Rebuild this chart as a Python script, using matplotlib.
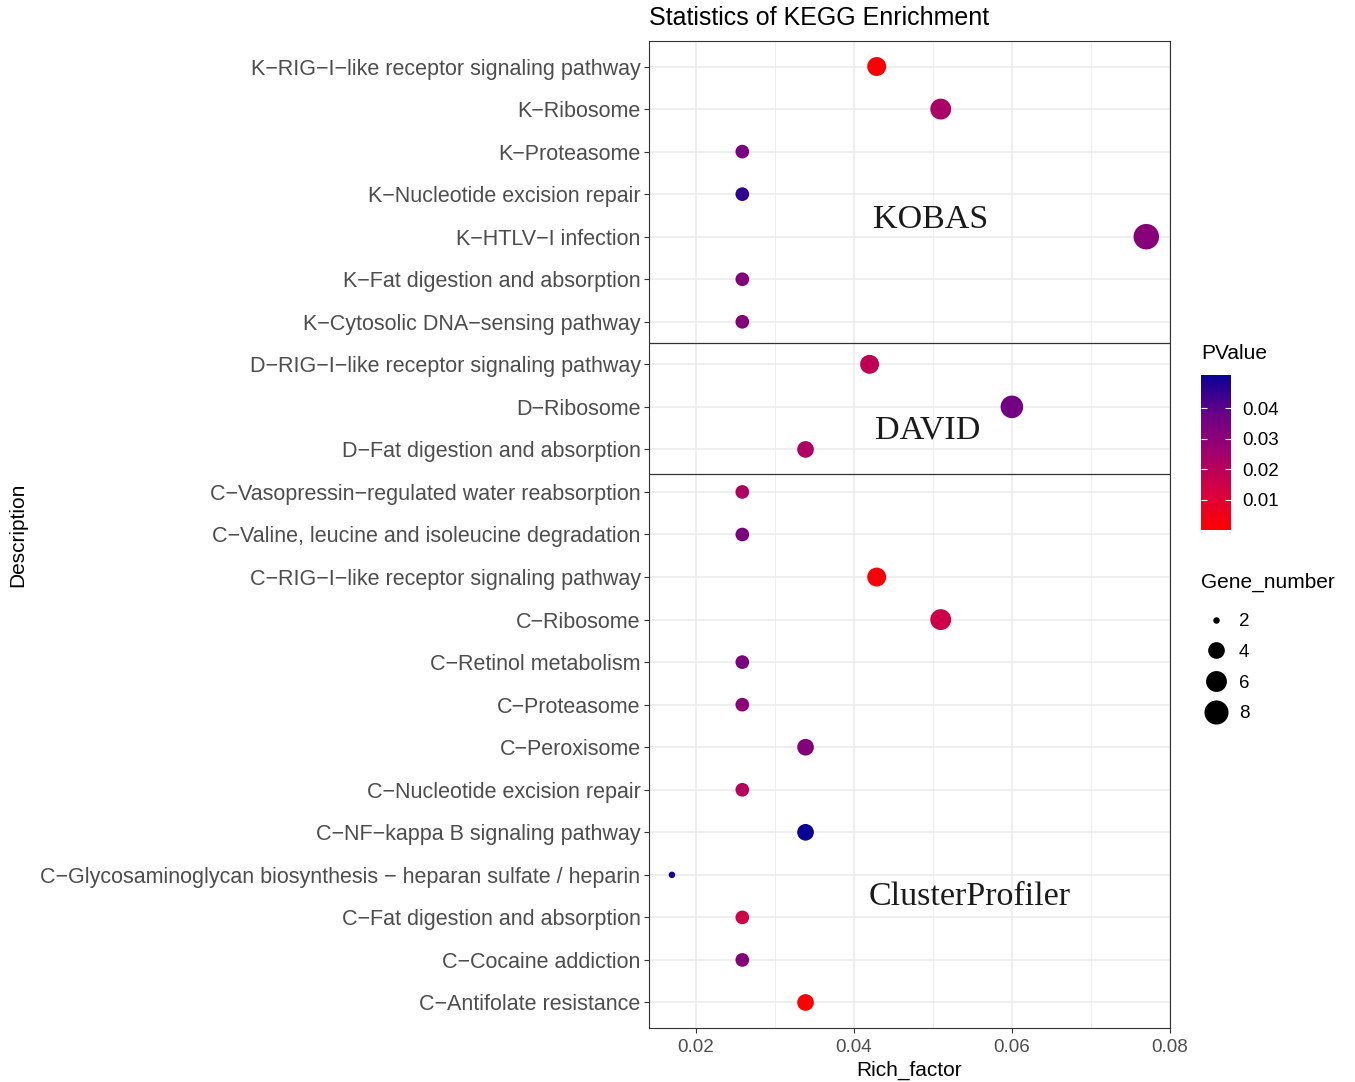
import numpy as np
import matplotlib
matplotlib.use('Agg')
import matplotlib.pyplot as plt
from matplotlib.colors import LinearSegmentedColormap, Normalize
from matplotlib.lines import Line2D

plt.rcParams['font.family'] = ['Liberation Sans', 'DejaVu Sans']

# data, top row first
descriptions = [
    'K\u2212RIG\u2212I\u2212like receptor signaling pathway',
    'K\u2212Ribosome',
    'K\u2212Proteasome',
    'K\u2212Nucleotide excision repair',
    'K\u2212HTLV\u2212I infection',
    'K\u2212Fat digestion and absorption',
    'K\u2212Cytosolic DNA\u2212sensing pathway',
    'D\u2212RIG\u2212I\u2212like receptor signaling pathway',
    'D\u2212Ribosome',
    'D\u2212Fat digestion and absorption',
    'C\u2212Vasopressin\u2212regulated water reabsorption',
    'C\u2212Valine, leucine and isoleucine degradation',
    'C\u2212RIG\u2212I\u2212like receptor signaling pathway',
    'C\u2212Ribosome',
    'C\u2212Retinol metabolism',
    'C\u2212Proteasome',
    'C\u2212Peroxisome',
    'C\u2212Nucleotide excision repair',
    'C\u2212NF\u2212kappa B signaling pathway',
    'C\u2212Glycosaminoglycan biosynthesis \u2212 heparan sulfate / heparin',
    'C\u2212Fat digestion and absorption',
    'C\u2212Cocaine addiction',
    'C\u2212Antifolate resistance',
]
rich_factor = [0.0429, 0.0510, 0.0259, 0.0259, 0.0770, 0.0259, 0.0259,
               0.0420, 0.0600, 0.0339,
               0.0259, 0.0259, 0.0429, 0.0510, 0.0259, 0.0259, 0.0339,
               0.0259, 0.0339, 0.0170, 0.0259, 0.0259, 0.0339]
gene_number = [5, 6, 3, 3, 9, 3, 3,
               5, 7, 4,
               3, 3, 5, 6, 3, 3, 4, 3, 4, 2, 3, 3, 4]
pvalue = [0.001, 0.023, 0.034, 0.046, 0.031, 0.032, 0.032,
          0.018, 0.036, 0.022,
          0.022, 0.034, 0.002, 0.015, 0.034, 0.030, 0.032, 0.020,
          0.051, 0.049, 0.015, 0.032, 0.0001]
size_breaks = [2, 4, 6, 8]
group_labels = ['KOBAS', 'DAVID', 'ClusterProfiler']
group_label_pos = [(0.0497, 3.6), (0.0494, 8.56), (0.0547, 19.52)]
group_lines = [6.5, 9.57]

W, H = 1355, 1082
fig = plt.figure(figsize=(W / 100, H / 100), dpi=100)
ax = fig.add_axes([649 / W, 1 - 1028 / H, 521 / W, 987 / H])

cmap = LinearSegmentedColormap.from_list(
    'pv', ['#ff0000', '#d70041', '#a0006e', '#690087', '#0a0096'])
norm = Normalize(vmin=min(pvalue), vmax=max(pvalue))

nmin, nmax = min(gene_number), max(gene_number)


def diam_px(n):
    return 6.5 + 19 * np.sqrt((n - nmin) / (nmax - nmin))


y = np.arange(len(descriptions))
sizes = [(diam_px(n) * 0.72) ** 2 for n in gene_number]
ax.scatter(rich_factor, y, s=sizes, c=pvalue, cmap=cmap, norm=norm,
           linewidths=0, zorder=3)

ax.set_xlim(0.0141, 0.0800)
ax.set_ylim(len(descriptions) - 0.4, -0.6)
ax.set_xticks([0.02, 0.04, 0.06, 0.08])
ax.set_xticklabels(['0.02', '0.04', '0.06', '0.08'])
ax.set_xticks([0.03, 0.05, 0.07], minor=True)
ax.set_yticks(y)
ax.set_yticklabels(descriptions)

ax.grid(True, which='major', color='#ebebeb', linewidth=1.1, zorder=0)
ax.grid(True, which='minor', axis='x', color='#ebebeb', linewidth=0.55, zorder=0)
ax.set_axisbelow(True)
for sp in ax.spines.values():
    sp.set_color('#333333')
    sp.set_linewidth(0.8)
ax.tick_params(which='major', length=3.6, width=0.8, color='#333333',
               labelcolor='#4d4d4d', pad=2.5)
ax.tick_params(axis='y', labelsize=15.5)
ax.tick_params(axis='x', labelsize=13.5, pad=4)
ax.tick_params(which='minor', length=0)

for yl in group_lines:
    ax.axhline(yl, color='#333333', linewidth=0.9, zorder=2)

for lab, (gx, gy) in zip(group_labels, group_label_pos):
    ax.text(gx, gy, lab, family='Liberation Serif', fontsize=24.5,
            ha='center', va='center', color='#1a1a1a', zorder=4)

ax.set_xlabel('Rich_factor', fontsize=15, labelpad=4)
fig.text(18 / W, 1 - 535 / H, 'Description', rotation=90, fontsize=15,
         ha='center', va='center')
fig.text(649 / W, 1 - 18 / H, 'Statistics of KEGG Enrichment', fontsize=18,
         ha='left', va='center')

# colour bar
cax = fig.add_axes([1201 / W, 1 - 530 / H, 30 / W, 155 / H])
cb = fig.colorbar(plt.cm.ScalarMappable(norm=norm, cmap=cmap), cax=cax)
cb.set_ticks([0.01, 0.02, 0.03, 0.04])
cb.set_ticklabels(['0.01', '0.02', '0.03', '0.04'])
cb.outline.set_visible(False)
cax.tick_params(which='both', direction='in', length=4.5, width=0.8,
                color='white', left=True, right=True, labelsize=13.5,
                labelcolor='black', pad=8)
cax.minorticks_off()
fig.text(1201 / W, 1 - 354 / H, 'PValue', fontsize=15, ha='left', va='center')

# size legend
fig.text(1201 / W, 1 - 582 / H, 'Gene_number', fontsize=15, ha='left', va='center')
handles = [Line2D([], [], marker='o', linestyle='', color='black',
                  markeredgewidth=0, markersize=diam_px(n) * 0.72)
           for n in size_breaks]
leg = fig.legend(handles, [str(n) for n in size_breaks],
                 loc='upper left', bbox_to_anchor=(1191 / W, 1 - 600 / H),
                 frameon=False, fontsize=13.5,
                 labelspacing=0.72, handletextpad=0.55, handlelength=1.3,
                 borderpad=0.2)

fig.savefig('out.png', dpi=100, facecolor='white')
